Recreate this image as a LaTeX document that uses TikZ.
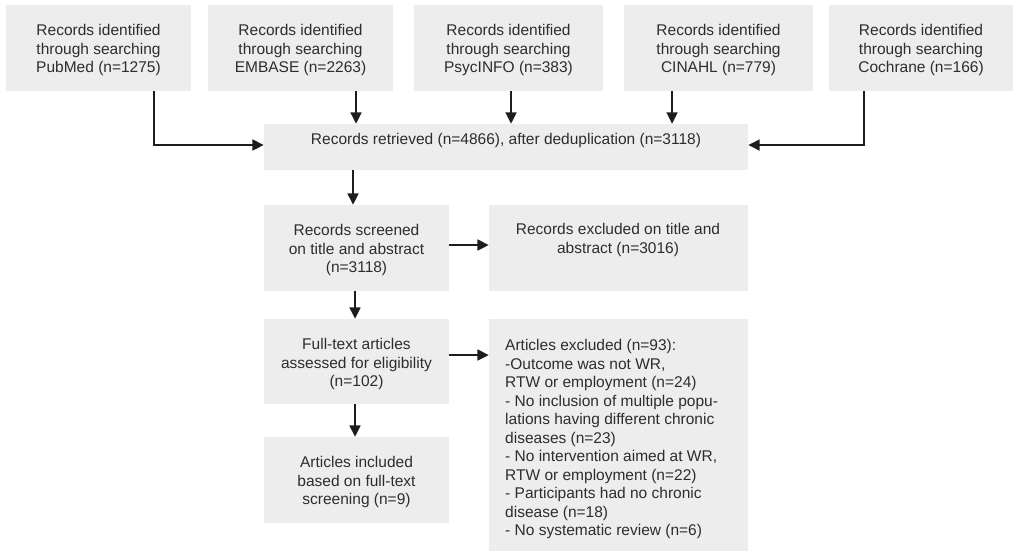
\documentclass[tikz,border=0pt]{standalone}
\usepackage{fontspec}
\setmainfont{Liberation Sans}
\usetikzlibrary{arrows.meta}
\definecolor{boxgray}{RGB}{237,237,237}
\definecolor{ink}{RGB}{45,45,45}
\definecolor{lineink}{RGB}{30,30,30}
\begin{document}
\begin{tikzpicture}[x=1pt,y=-1pt,
  box/.style={fill=boxgray,draw=none,inner sep=0pt},
  txt/.style={text=ink,inner sep=0pt,align=center,font=\fontsize{15.5}{18.5}\selectfont},
  arr/.style={draw=lineink,line width=1.7pt,-{Triangle[length=11.5pt,width=11pt]}}]
\useasboundingbox (0,0) rectangle (1016,554);
% boxes
\node[box,minimum width=185pt,minimum height=86pt] (b1) at (98.5,48) {};
\node[box,minimum width=185pt,minimum height=86pt] (b2) at (300.5,48) {};
\node[box,minimum width=189pt,minimum height=86pt] (b3) at (508.5,48) {};
\node[box,minimum width=189pt,minimum height=86pt] (b4) at (718.5,48) {};
\node[box,minimum width=184pt,minimum height=86pt] (b5) at (921,48) {};
\node[box,minimum width=484pt,minimum height=46pt] (ret) at (506,147) {};
\node[box,minimum width=185pt,minimum height=86pt] (scr) at (356.5,248) {};
\node[box,minimum width=259pt,minimum height=86pt] (ex1) at (618.5,248) {};
\node[box,minimum width=185pt,minimum height=85pt] (ft) at (356.5,361.5) {};
\node[box,minimum width=259pt,minimum height=232pt] (ex2) at (618.5,435) {};
\node[box,minimum width=185pt,minimum height=86pt] (inc) at (356.5,480) {};
% texts
\node[txt] (t1) at (98.5,50) {Records identified\\through searching\\PubMed (n=1275)};
\node[txt] (t2) at (300.5,50) {Records identified\\through searching\\EMBASE (n=2263)};
\node[txt] (t3) at (508.5,50) {Records identified\\through searching\\PsycINFO (n=383)};
\node[txt] (t4) at (718.5,50) {Records identified\\through searching\\CINAHL (n=779)};
\node[txt] (t5) at (921,50) {Records identified\\through searching\\Cochrane (n=166)};
\node[txt] (tret) at (506,140) {Records retrieved (n=4866), after deduplication (n=3118)};
\node[txt] (tscr) at (356.5,250) {Records screened\\on title and abstract\\(n=3118)};
\node[txt] (tex1) at (618,240) {Records excluded on title and\\abstract (n=3016)};
\node[txt] (tft) at (356.5,364) {Full-text articles\\assessed for eligibility\\(n=102)};
\node[txt] (tinc) at (356.5,482) {Articles included\\based on full-text\\screening (n=9)};
\node[txt,align=left,anchor=west] (tex2) at (505,439) {Articles excluded (n=93):\\-Outcome was not WR,\\RTW or employment (n=24)\\- No inclusion of multiple popu-\\lations having different chronic\\diseases (n=23)\\- No intervention aimed at WR,\\RTW or employment (n=22)\\- Participants had no chronic\\disease (n=18)\\- No systematic review (n=6)};
% connectors
\draw[arr] ([xshift=55.5pt]b1.south) |- ([yshift=2pt]ret.west);
\draw[arr] ([xshift=55.5pt]b2.south) -- ([xshift=55.5pt]b2.south |- ret.north);
\draw[arr] ([xshift=2.5pt]b3.south) -- ([xshift=2.5pt]b3.south |- ret.north);
\draw[arr] ([xshift=-46.5pt]b4.south) -- ([xshift=-46.5pt]b4.south |- ret.north);
\draw[arr] ([xshift=-57pt]b5.south) |- ([yshift=2pt]ret.east);
\draw[arr] ([xshift=-3.5pt]scr.north |- ret.south) -- ([xshift=-3.5pt]scr.north);
\draw[arr] ([yshift=3pt]scr.east) -- ([yshift=3pt]scr.east -| ex1.west);
\draw[arr] ([xshift=-1.5pt]scr.south) -- ([xshift=-1.5pt]ft.north);
\draw[arr] ([yshift=6.5pt]ft.east) -- ([yshift=6.5pt]ft.east -| ex2.west);
\draw[arr] ([xshift=-1.5pt]ft.south) -- ([xshift=-1.5pt]inc.north);
\end{tikzpicture}
\end{document}
